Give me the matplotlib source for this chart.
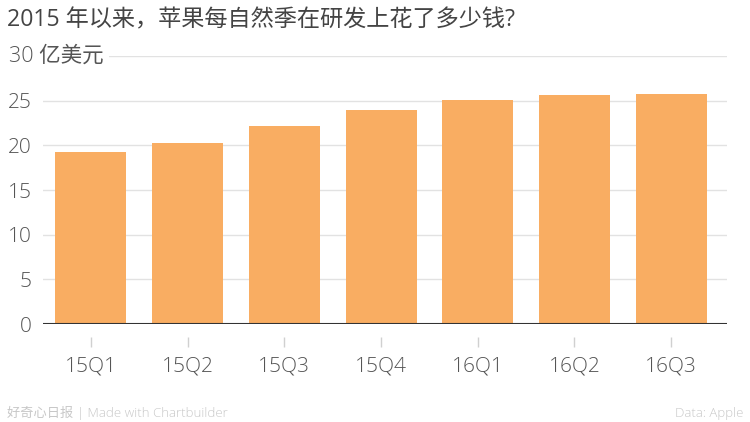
import matplotlib
matplotlib.use("Agg")
import matplotlib.pyplot as plt

plt.rcParams['font.family'] = ['Open Sans', 'Noto Sans CJK SC', 'DejaVu Sans']

quarters = ["15Q1", "15Q2", "15Q3", "15Q4", "16Q1", "16Q2", "16Q3"]
spend = [19.2, 20.3, 22.2, 24.0, 25.1, 25.6, 25.7]
y_ticks = [0, 5, 10, 15, 20, 25, 30]

title = "2015 年以来，苹果每自然季在研发上花了多少钱?"
unit = "亿美元"
credit = "好奇心日报 | Made with Chartbuilder"
source = "Data: Apple"

BAR = "#F9AD62"
TEXT = "#555555"

fig = plt.figure(figsize=(7.5, 4.22), dpi=100)
ax = fig.add_axes([0.0573, 0.2322, 0.9120, 0.6351])

x = list(range(len(quarters)))
ax.bar(x, spend, width=0.734, color=BAR, zorder=2)

ax.set_xlim(-0.496, 6.577)
ax.set_ylim(0, 30)

# y grid + labels
ax.set_yticks(y_ticks)
ax.set_yticklabels([str(t) for t in y_ticks[:-1]] + [""])
ax.yaxis.grid(True, color="#e2e2e2", linewidth=1, zorder=0)
ax.tick_params(axis="y", length=0, pad=8, labelsize=15, labelcolor=TEXT)
for lab in ax.get_yticklabels():
    lab.set_fontweight("light")
ax.text(-0.0497, 30, f"30 {unit}", transform=ax.get_yaxis_transform(),
        ha="left", va="center", fontsize=15.5, color=TEXT, fontweight="light",
        bbox=dict(facecolor="white", edgecolor="none", pad=4), zorder=3)

# zero line
ax.axhline(0, color="#333333", linewidth=1.5, zorder=3)

# x ticks pushed below the axis
ax.set_xticks(x)
ax.set_xticklabels(quarters)
ax.spines["bottom"].set_position(("outward", 9.4))
for s in ["top", "right", "left", "bottom"]:
    ax.spines[s].set_visible(False)
ax.tick_params(axis="x", length=7.2, width=1, color="#d0d0d0", direction="out",
               pad=7, labelsize=15, labelcolor=TEXT)
for lab in ax.get_xticklabels():
    lab.set_fontweight("light")

fig.text(7 / 750, 1 - 20 / 422, title, ha="left", va="center",
         fontsize=16.7, color="#444444")
fig.text(7 / 750, 1 - 413 / 422, credit, ha="left", va="center",
         fontsize=9.5, color="#c8c8c8", fontweight="light")
fig.text(743 / 750, 1 - 413 / 422, source, ha="right", va="center",
         fontsize=9.5, color="#c8c8c8", fontweight="light")

fig.savefig("out.png", dpi=100, facecolor="white")
